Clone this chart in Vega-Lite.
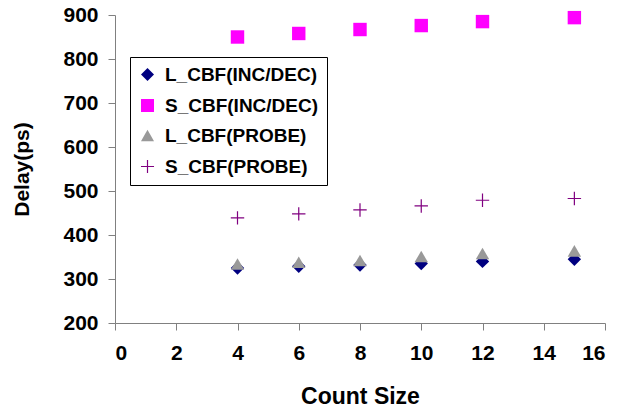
{
  "$schema": "https://vega.github.io/schema/vega-lite/v6.json",
  "width": 490,
  "height": 308,
  "autosize": {"type": "none"},
  "padding": {"left": 115, "top": 15, "right": 12, "bottom": 88},
  "background": "white",
  "config": {
    "view": {"stroke": null},
    "font": "Liberation Sans",
    "axis": {"grid": false, "domainColor": "#808080", "tickColor": "#808080", "labelFontWeight": "bold", "labelFontSize": 21, "labelColor": "black", "titleFontWeight": "bold", "titleFontSize": 23, "titleColor": "black", "tickSize": 7}
  },
  "data": {"values": [
    {"series": "L_CBF(INC/DEC)", "count": 4, "delay": 325},
    {"series": "L_CBF(INC/DEC)", "count": 6, "delay": 329},
    {"series": "L_CBF(INC/DEC)", "count": 8, "delay": 332},
    {"series": "L_CBF(INC/DEC)", "count": 10, "delay": 335},
    {"series": "L_CBF(INC/DEC)", "count": 12, "delay": 340},
    {"series": "L_CBF(INC/DEC)", "count": 15, "delay": 345},
    {"series": "S_CBF(INC/DEC)", "count": 4, "delay": 850},
    {"series": "S_CBF(INC/DEC)", "count": 6, "delay": 858},
    {"series": "S_CBF(INC/DEC)", "count": 8, "delay": 867},
    {"series": "S_CBF(INC/DEC)", "count": 10, "delay": 876},
    {"series": "S_CBF(INC/DEC)", "count": 12, "delay": 885},
    {"series": "S_CBF(INC/DEC)", "count": 15, "delay": 894},
    {"series": "L_CBF(PROBE)", "count": 4, "delay": 334},
    {"series": "L_CBF(PROBE)", "count": 6, "delay": 338},
    {"series": "L_CBF(PROBE)", "count": 8, "delay": 342},
    {"series": "L_CBF(PROBE)", "count": 10, "delay": 351},
    {"series": "L_CBF(PROBE)", "count": 12, "delay": 358},
    {"series": "L_CBF(PROBE)", "count": 15, "delay": 364},
    {"series": "S_CBF(PROBE)", "count": 4, "delay": 439},
    {"series": "S_CBF(PROBE)", "count": 6, "delay": 448},
    {"series": "S_CBF(PROBE)", "count": 8, "delay": 457},
    {"series": "S_CBF(PROBE)", "count": 10, "delay": 466},
    {"series": "S_CBF(PROBE)", "count": 12, "delay": 479},
    {"series": "S_CBF(PROBE)", "count": 15, "delay": 483}
  ]},
  "mark": {"type": "point", "filled": true, "opacity": 1},
  "encoding": {
    "x": {"field": "count", "type": "quantitative", "title": "Count Size",
      "scale": {"domain": [0, 16], "nice": false, "zero": false},
      "axis": {"values": [0, 2, 4, 6, 8, 10, 12, 14, 16], "labelPadding": 12, "titlePadding": 22}},
    "y": {"field": "delay", "type": "quantitative", "title": "Delay(ps)",
      "scale": {"domain": [200, 900], "nice": false, "zero": false},
      "axis": {"values": [200, 300, 400, 500, 600, 700, 800, 900], "labelPadding": 10, "titlePadding": 30, "titleFontSize": 21}},
    "color": {"field": "series", "type": "nominal",
      "scale": {"domain": ["L_CBF(INC/DEC)", "S_CBF(INC/DEC)", "L_CBF(PROBE)", "S_CBF(PROBE)"],
        "range": ["#000080", "#FF00FF", "#999999", "#800080"]},
      "legend": {"orient": "none", "legendX": 15, "legendY": 42, "title": null,
        "strokeColor": "black", "fillColor": "white", "padding": 8,
        "labelFontSize": 19, "labelFontWeight": "bold", "labelColor": "black",
        "rowPadding": 10, "symbolOpacity": 1, "labelOffset": 8, "symbolSize": 170}},
    "shape": {"field": "series", "type": "nominal",
      "scale": {"domain": ["L_CBF(INC/DEC)", "S_CBF(INC/DEC)", "L_CBF(PROBE)", "S_CBF(PROBE)"],
        "range": ["diamond", "square", "triangle-up", "M-1,-0.09H1V0.09H-1Z M-0.09,-1H0.09V1H-0.09Z"]}},
    "size": {"value": 180}
  }
}
